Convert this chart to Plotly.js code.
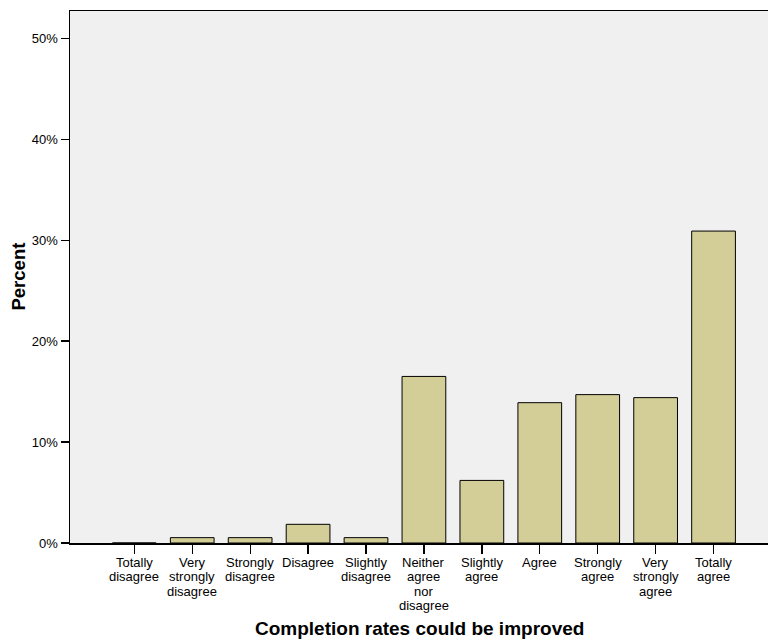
<!DOCTYPE html>
<html>
<head>
<meta charset="utf-8">
<script src="https://cdn.plot.ly/plotly-3.0.1.min.js"></script>
<style>html,body{margin:0;padding:0;background:#fff;}#chart{width:768px;height:641px;}</style>
</head>
<body>
<div id="chart"></div>
<script>
const categories = [
  "Totally<br>disagree",
  "Very<br>strongly<br>disagree",
  "Strongly<br>disagree",
  "Disagree",
  "Slightly<br>disagree",
  "Neither<br>agree<br>nor<br>disagree",
  "Slightly<br>agree",
  "Agree",
  "Strongly<br>agree",
  "Very<br>strongly<br>agree",
  "Totally<br>agree"
];
const percents = [0.0, 0.53, 0.53, 1.85, 0.53, 16.5, 6.2, 13.9, 14.7, 14.4, 30.9];
const yTickValues = [0, 10, 20, 30, 40, 50];
const yTickLabels = ["0%", "10%", "20%", "30%", "40%", "50%"];
const xTitle = "Completion rates could be improved";
const yTitle = "Percent";

const idx = categories.map((c, i) => i);
const trace = {
  type: "bar",
  x: idx,
  y: percents,
  width: 0.755,
  marker: {color: "#d3ce97", line: {color: "#000000", width: 1}},
  hoverinfo: "skip"
};
const ff = "Liberation Sans, Arial, sans-serif";

// category labels: one annotation per text line, for tight line spacing
const annotations = [];
categories.forEach((label, i) => {
  label.split("<br>").forEach((line, k) => {
    annotations.push({
      xref: "x", yref: "paper", x: i, y: 0,
      text: line, showarrow: false,
      xanchor: "center", yanchor: "middle",
      yshift: -19.6 - 14.3 * k,
      font: {family: ff, size: 13, color: "#000"}
    });
  });
});
annotations.push({
  xref: "paper", yref: "paper", x: 0.5, y: -0.1603,
  text: "<b>" + xTitle + "</b>", showarrow: false,
  xanchor: "center", yanchor: "middle",
  font: {family: ff, size: 19, color: "#000"}
});
annotations.push({
  xref: "paper", yref: "paper", x: -0.0752, y: 0.5,
  text: "<b>" + yTitle + "</b>", showarrow: false, textangle: -90,
  xanchor: "center", yanchor: "middle",
  font: {family: ff, size: 18.5, color: "#000"}
});

const layout = {
  width: 768, height: 641,
  margin: {l: 70, r: 0, t: 10.5, b: 98.3, pad: 0},
  paper_bgcolor: "#ffffff",
  plot_bgcolor: "#f0f0f0",
  showlegend: false,
  font: {family: ff, color: "#000"},
  xaxis: {
    range: [-1.11, 10.94],
    tickmode: "array",
    tickvals: idx,
    ticktext: idx.map(() => ""),
    ticks: "outside", ticklen: 9, tickwidth: 1.3, tickcolor: "#000",
    showline: true, linecolor: "#000", linewidth: 1.5, mirror: true,
    showgrid: false, zeroline: false,
    automargin: false
  },
  yaxis: {
    range: [0, 52.7],
    tickmode: "array",
    tickvals: yTickValues,
    ticktext: yTickLabels,
    ticks: "outside", ticklen: 8, tickwidth: 1.3, tickcolor: "#000",
    showline: true, linecolor: "#000", linewidth: 1.5, mirror: false,
    showgrid: false, zeroline: false,
    tickfont: {family: ff, size: 13, color: "#000"},
    automargin: false
  },
  annotations: annotations,
  bargap: 0
};
Plotly.newPlot("chart", [trace], layout, {displayModeBar: false, staticPlot: true});
</script>
</body>
</html>
